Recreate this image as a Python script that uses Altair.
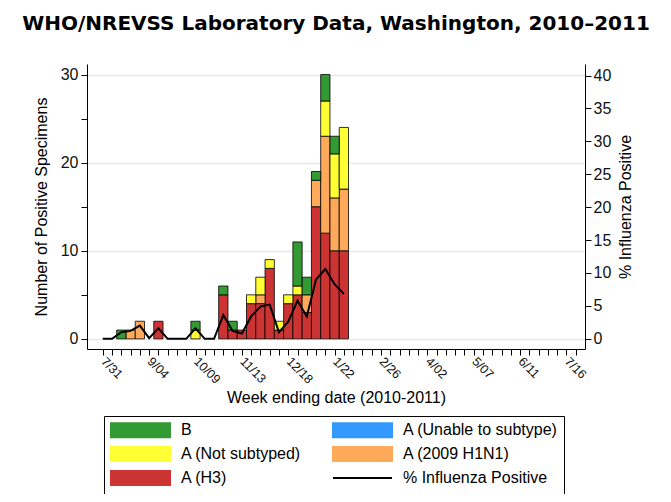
import altair as alt
import pandas as pd

# ---------------- data ----------------
WEEK_LABELS = ["7/31", "9/04", "10/09", "11/13", "12/18", "1/22",
               "2/26", "4/02", "5/07", "6/11", "7/16"]
# week index 0 = week ending 7/31/2010
weeks = [0, 1, 2, 3, 4, 5, 6, 7, 8, 9, 10, 11, 12, 13,
         14, 15, 16, 17, 18, 19, 20, 21, 22, 23, 24, 25, 26]
a_h3 = [0, 0, 0, 0, 0, 0, 2, 0, 0, 0, 0, 0, 0, 5,
        1, 1, 4, 4, 8, 1, 4, 5, 3, 15, 12, 10, 10]
a_h1n1 = [0, 0, 0, 1, 2, 0, 0, 0, 0, 0, 0, 0, 0, 0,
          0, 0, 0, 1, 0, 0, 0, 0, 2, 3, 11, 6, 7]
a_notsub = [0, 0, 0, 0, 0, 0, 0, 0, 0, 0, 1, 0, 0, 0,
            0, 0, 1, 2, 1, 1, 1, 1, 0, 0, 4, 5, 7]
a_unable = [0, 0, 0, 0, 0, 0, 0, 0, 0, 0, 0, 0, 0, 0,
            0, 0, 0, 0, 0, 0, 0, 0, 0, 0, 0, 0, 0]
b_flu = [0, 0, 1, 0, 0, 0, 0, 0, 0, 0, 1, 0, 0, 1,
         1, 0, 0, 0, 0, 0, 0, 5, 2, 1, 3, 2, 0]
pct_pos = [0, 0, 1.0, 1.2, 2.0, 0.1, 1.6, 0, 0, 0, 1.6, 0, 0, 3.6,
           1.2, 0.8, 3.4, 4.9, 5.2, 1.0, 2.6, 5.8, 3.4, 9.0, 10.6, 8.3, 6.8]

TYPES = ["B", "A (Unable to subtype)", "A (Not subtyped)",
         "A (2009 H1N1)", "A (H3)", "% Influenza Positive"]
COLORS = ["#339933", "#3399ff", "#ffff33", "#ffaa5a", "#cc3333", "#000000"]
RECT = "M-6.1,-1.6L6.1,-1.6L6.1,1.6L-6.1,1.6Z"
THIN = "M-5.9,-0.18L5.9,-0.18L5.9,0.18L-5.9,0.18Z"
SHAPES = [RECT, RECT, RECT, RECT, RECT, THIN]

# stacking order bottom -> top
series = [("A (H3)", a_h3), ("A (2009 H1N1)", a_h1n1), ("A (Not subtyped)", a_notsub),
          ("A (Unable to subtype)", a_unable), ("B", b_flu)]
rows = []
for k, (name, vals) in enumerate(series):
    for w, v in zip(weeks, vals):
        if v > 0:
            rows.append({"week": w, "type": name, "count": v, "stack": k})
bars_df = pd.DataFrame(rows)
line_df = pd.DataFrame({"week": weeks, "pct": pct_pos})
legend_df = pd.DataFrame({"type": TYPES})

FONT = "Liberation Sans"
labels_js = "[" + ",".join("'" + s + "'" for s in WEEK_LABELS) + "]"

xscale = alt.Scale(domain=[-1.7, 52], nice=False, zero=False)
xaxis = alt.Axis(
    title="Week ending date (2010-2011)",
    values=list(range(52)),
    labelExpr=f"datum.value % 5 === 0 ? {labels_js}[datum.value / 5] : ''",
    labelAngle=45, labelAlign="left", labelBaseline="middle",
    labelPadding=4, labelFontSize=12.5, labelOverlap=False, labelFlush=False,
    tickSize=6, titleFontSize=16, titlePadding=4, grid=False,
)

legend = alt.Legend(
    title=None, orient="none", legendX=17, legendY=352, direction="horizontal",
    columns=2, columnPadding=28, rowPadding=4, padding=6,
    strokeColor="black", symbolSize=100, symbolOffset=22.5, labelOffset=32.5,
    symbolStrokeColor="black", symbolStrokeWidth=0.8, symbolOpacity=1,
    labelFontSize=16, labelFont=FONT, labelColor="black", labelLimit=300,
)

fill = alt.Fill("type:N", scale=alt.Scale(domain=TYPES, range=COLORS), legend=legend)

bars = (
    alt.Chart(bars_df)
    .transform_stack(stack="count", groupby=["week"], as_=["y0", "y1"],
                     sort=[alt.SortField("stack", order="ascending")])
    .transform_calculate(x0="datum.week - 0.5", x1="datum.week + 0.5")
    .mark_bar(stroke="black", strokeWidth=0.8)
    .encode(
        x=alt.X("x0:Q", scale=xscale, axis=xaxis),
        x2="x1:Q",
        y=alt.Y("y0:Q", scale=alt.Scale(domain=[-1.15, 31.2], nice=False, zero=False),
                axis=alt.Axis(
                    title="Number of Positive Specimens",
                    values=[0, 5, 10, 15, 20, 25, 30],
                    labelExpr="datum.value % 10 === 0 ? datum.label : ''",
                    grid=True,
                    gridOpacity={"condition": {"test": "datum.value % 10 === 0", "value": 1}, "value": 0},
                    gridColor="#e3eaec", gridWidth=1.5,
                    tickSize=6, labelPadding=3, labelFontSize=16,
                    titleFontSize=16, titlePadding=11,
                )),
        y2="y1:Q",
        fill=fill,
    )
)

line = (
    alt.Chart(line_df)
    .mark_line(color="black", strokeWidth=2)
    .encode(
        x=alt.X("week:Q", scale=xscale, axis=xaxis),
        y=alt.Y("pct:Q", scale=alt.Scale(domain=[-1.55, 41.75], nice=False, zero=False),
                axis=alt.Axis(
                    orient="right", title="% Influenza Positive",
                    values=[0, 5, 10, 15, 20, 25, 30, 35, 40], grid=False,
                    tickSize=6, labelPadding=2, labelFontSize=16,
                    titleFontSize=16, titleAngle=270, titleBaseline="top", titlePadding=7,
                )),
    )
)

legend_pts = (
    alt.Chart(legend_df)
    .transform_filter("false")
    .mark_point(filled=True)
    .encode(
        fill=fill,
        shape=alt.Shape("type:N", scale=alt.Scale(domain=TYPES, range=SHAPES), legend=legend),
    )
)

chart = (
    alt.layer(bars, line, legend_pts)
    .resolve_scale(y="independent")
    .properties(
        width=498, height=285,
        title=alt.TitleParams(
            text="WHO/NREVSS Laboratory Data, Washington, 2010\u20132011",
            font="DejaVu Sans", fontSize=20, fontWeight="bold", color="black",
            anchor="middle", frame="group", offset=30,
        ),
        padding={"left": 79, "top": 56, "right": 76, "bottom": 145},
        autosize=alt.AutoSizeParams(type="none"),
    )
    .configure_view(strokeWidth=0)
    .configure_axis(
        domainColor="black", tickColor="black", labelColor="#111111",
        titleColor="black", labelFont=FONT, titleFont=FONT, titleFontWeight="normal",
    )
)

chart.save("out.html", embed_options={"renderer": "svg", "actions": False})
